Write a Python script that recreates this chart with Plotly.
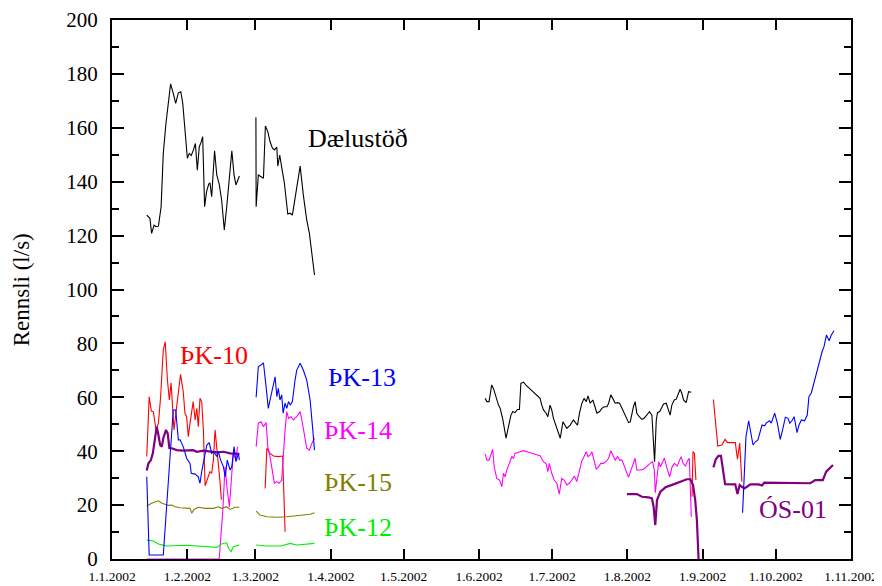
import pandas as pd
import plotly.graph_objects as go

BASE = pd.Timestamp("2002-01-01")

# ---------------- data (days after 1.1.2002, flow in l/s); None = gap ----------------
dael_days = [14.3, 15.6, 16.3, 17.3, 18.1, 19.1, 20.2, 21.1, 22.2, 23.2, 24.1, 25.2, 26.2, 27.3, 28.3,
             29.1, 30.0, 31.0, 31.8, 32.6, 33.5, 34.3, 35.1, 35.9, 36.6, 37.3, 38.1, 38.9, 39.8, 40.3,
             41.0, 42.2, 43.1, 44.1, 45.1, 46.2, 47.2, 48.1, 49.3, 50.2, 51.0, 52.4, None,
             59.2, 59.3, 60.2, 61.3, 62.3, 63.1, 64.1, 65.0, 66.0, 66.8, 67.8, 68.2, 69.0, 70.0, 70.9,
             72.3, 73.3, 74.2, 77.4, 78.7, 80.1, 81.2, 83.3, None,
             153.5, 154.2, 155.1, 156.2, 156.9, 157.9, 159.0, 159.7, 160.8, 162.1, 163.1, 164.1, 164.9,
             165.8, 166.8, 167.6, 168.2, 169.3, 170.6, 172.7, 174.8, 176.1, 176.8, 177.5, 178.6, 179.3,
             180.2, 180.9, 181.6, 182.3, 183.0, 183.7, 184.4, 185.5, 186.4, 187.1, 188.5, 189.8, 190.8,
             191.5, 192.3, 193.3, 194.2, 195.1, 195.8, 196.7, 197.8, 198.8, 199.5, 200.6, 201.5, 202.5,
             203.6, 204.3, 205.2, 206.0, 207.0, 208.0, 208.8, 209.8, 210.7, 211.5, 212.5, 213.2, 213.9,
             214.5, 215.2, 215.9, 216.9, 218.0, 218.9, 220.0, 221.1, 222.1, 223.2, 223.9, 224.4, 225.3,
             226.0, 226.9, 228.0, 229.0, 229.6, 230.3, 231.3, 232.1, 233.1, 233.7, 234.4, 235.1, 236.2,
             237.2, 238.3]
dael_vals = [127.6, 126.4, 120.8, 123.9, 123.3, 123.5, 130.7, 150.5, 161.7, 169.1, 176.3, 172.8, 169.1,
             173.0, 173.4, 169.1, 159.2, 148.7, 150.5, 149.7, 151.8, 154.2, 144.3, 153.0, 154.5, 156.7,
             130.7, 136.3, 139.1, 139.6, 134.4, 151.5, 142.5, 139.1, 133.2, 122.1, 130.7, 140.6, 151.5,
             142.5, 138.8, 142.1, None,
             163.9, 130.7, 142.5, 141.9, 141.3, 160.7, 158.6, 154.9, 152.4, 151.8, 152.8, 145.8, 149.9,
             144.3, 139.6, 128.0, 128.3, 127.6, 145.8, 135.1, 125.8, 120.8, 105.4, None,
             59.6, 58.4, 58.4, 64.6, 63.3, 60.2, 57.1, 55.9, 51.6, 44.8, 49.1, 53.4, 54.7,
             54.3, 55.5, 55.5, 65.2, 65.6, 64.2, 62.5, 60.9, 59.6, 57.1, 55.3, 54.1, 52.8,
             57.1, 55.3, 52.2, 50.4, 48.5, 47.2, 44.8, 50.9, 49.7, 48.5, 49.7, 51.6, 50.4,
             49.7, 54.1, 57.8, 59.6, 58.4, 60.5, 57.8, 59.0, 56.5, 54.1, 54.7, 55.9, 56.5,
             56.5, 57.8, 60.9, 59.6, 57.8, 58.0, 57.8, 55.9, 54.1, 52.2, 50.6, 50.9, 54.7,
             56.5, 58.4, 54.1, 52.8, 51.8, 52.2, 53.4, 54.7, 53.4, 36.1, 51.6, 54.3, 54.7,
             55.9, 57.5, 57.8, 55.3, 53.4, 57.1, 59.0, 59.3, 61.5, 63.0, 61.5, 59.0, 58.0,
             62.1, 61.9]

pk10_days = [14.3, 15.3, 16.2, 17.0, 18.1, 19.1, 20.0, 21.1, 21.9, 22.8, 23.6, 24.3, 25.0, 25.5, 26.6,
             27.7, 28.2, 29.3, 30.0, 30.7, 31.4, 32.1, 32.8, 33.4, 34.2, 34.9, 35.5, 36.2, 36.9, 37.6,
             38.3, 39.0, 39.6, 40.3, 41.0, 41.7, 42.4, 43.1, 43.7, 44.4, 45.0, None,
             63.0, 63.7, 65.0, 66.4, 68.4, 70.2, 70.6, 71.2, None,
             238.6, 239.0, 239.6, 240.2, None,
             247.4, 249.2, 250.9, 252.2, 253.2, 255.0, 256.4, 257.3, 258.2, 259.1]
pk10_vals = [38.0, 60.2, 54.9, 54.7, 47.9, 50.4, 60.2, 77.6, 80.6, 66.4, 59.0, 65.4, 55.3, 47.9, 56.5,
             65.2, 68.5, 62.1, 54.1, 52.8, 45.4, 50.4, 55.3, 58.4, 51.6, 55.9, 49.1, 59.6, 58.4, 47.9,
             27.2, 29.3, 30.5, 32.4, 31.8, 36.7, 47.9, 39.2, 35.5, 29.0, 22.0, None,
             26.2, 41.1, 39.2, 38.2, 38.0, 38.2, 27.0, 10.1, None,
             23.1, 39.8, 39.2, 29.3, None,
             59.2, 41.9, 42.3, 44.4, 43.2, 43.2, 43.2, 37.0, 43.0, 28.7]

pk13_days = [14.3, 15.3, 21.1, 25.2, 26.2, 27.3, 28.0, 29.3, 30.7, 32.1, 32.6, 34.2, 35.5, 36.2, 36.9,
             37.9, 39.0, 40.0, 41.0, 41.9, 43.1, 43.7, 44.7, 45.8, 46.6, 47.4, 48.6, 49.3, 50.2, 51.0,
             52.0, 52.4, None,
             59.3, 60.2, 61.3, 62.3, 63.3, 64.3, 65.3, 66.1, 67.1, 67.8, 68.4, 69.1, 69.8, 70.4, 71.2,
             71.9, 72.6, 73.3, 74.2, 75.3, 76.0, 77.4, 78.7, 80.1, 81.5, 82.6, 83.3, None,
             259.4, 260.0, 260.8, 261.9, 263.7, 264.7, 265.7, 267.4, 268.5, 269.1, 270.5, 271.2, 272.6,
             273.7, 274.9, 276.0, 277.0, 278.1, 278.8, 279.7, 280.6, 281.8, 282.6, 283.6, 284.9, 286.0,
             286.7, 287.7, 289.0, 290.0, 291.1, 292.1, 292.9, 293.9, 295.0, 295.9, 297.0]
pk13_vals = [30.5, 1.5, 1.5, 55.3, 55.3, 44.2, 44.2, 41.7, 37.4, 35.5, 31.8, 31.5, 30.5, 28.1, 32.4,
             36.7, 42.3, 43.2, 39.2, 39.8, 38.0, 39.8, 36.7, 34.3, 30.5, 36.7, 33.0, 34.3, 41.7, 36.1,
             39.2, 36.7, None,
             60.0, 71.4, 72.0, 72.8, 64.6, 55.9, 60.2, 63.9, 67.6, 60.2, 63.3, 59.0, 60.9, 54.1, 57.8,
             55.9, 58.4, 57.1, 58.4, 66.4, 70.1, 72.6, 70.1, 66.4, 59.0, 47.9, 40.4, None,
             17.2, 29.3, 45.4, 51.3, 42.3, 43.5, 44.2, 49.7, 49.4, 50.4, 51.3, 50.4, 54.1,
             50.4, 44.4, 48.5, 52.6, 52.2, 50.4, 51.3, 52.8, 46.9, 49.7, 51.6, 51.3, 53.4,
             60.2, 61.7, 66.4, 68.9, 73.8, 76.9, 78.8, 83.1, 81.0, 83.1, 84.7]

pk14_days = [14.3, 44.1, 45.6, 46.5, 47.4, 48.3, 49.3, 49.9, 51.0, 51.6, None,
             59.3, 60.2, 61.3, 62.3, 63.4, 64.1, 65.0, 66.0, 66.8, 67.8, 68.7, 69.8, 70.4, 71.2, 71.9,
             72.6, 73.7, 74.6, 76.0, 77.4, 78.1, 79.0, 80.1, 81.2, 82.2, 83.3, None,
             153.5, 154.2, 155.1, 156.2, 156.6, 157.3, 158.3, 159.4, 160.4, 161.0, 161.7, 162.4, 163.4,
             164.5, 165.2, 165.8, 167.2, 169.3, 172.1, 176.1, 177.5, 178.6, 179.3, 179.9, 180.9, 181.9,
             183.0, 184.0, 185.0, 186.0, 187.1, 188.1, 189.2, 190.2, 191.2, 192.2, 193.3, 194.2, 195.1,
             195.8, 196.7, 197.4, 198.4, 199.2, 200.1, 201.1, 202.2, 203.2, 204.3, 205.2, 206.3, 207.0,
             208.0, 208.8, 209.8, 210.8, 211.8, 212.5, 213.5, 214.3, 215.2, 215.9, 217.3, 218.7, 220.0,
             221.4, 222.4, 223.1, 223.5, 224.2, 224.9, 225.6, 226.3, 227.2, 228.3, 229.4, 230.4, 231.4,
             232.5, 233.4, 234.1, 234.9, 235.9, 236.8, 237.5, 238.3]
pk14_vals = [0.0, 0.0, 18.2, 34.2, 25.6, 19.4, 31.8, 39.2, 36.7, 41.7, None,
             41.7, 50.4, 50.9, 49.1, 50.6, 41.7, 38.0, 33.0, 28.1, 28.7, 28.1, 29.3, 39.2, 47.9, 54.7,
             52.2, 52.8, 51.6, 52.8, 54.7, 51.6, 47.2, 41.1, 40.4, 42.9, 44.8, None,
             39.0, 36.7, 36.7, 40.4, 40.7, 33.7, 29.9, 29.3, 26.8, 31.8, 30.5, 33.0, 35.3,
             38.0, 37.4, 39.2, 39.6, 40.2, 39.4, 38.3, 36.1, 35.3, 32.4, 35.5, 31.8, 29.3,
             28.1, 24.1, 29.9, 29.3, 27.5, 28.1, 29.3, 30.8, 28.7, 33.0, 36.5, 38.0, 39.8,
             38.0, 38.6, 39.8, 36.7, 33.3, 34.2, 35.5, 35.5, 36.1, 37.4, 40.2, 38.0, 36.7,
             38.0, 36.7, 36.7, 34.2, 31.8, 30.3, 33.0, 34.9, 37.4, 33.0, 33.0, 33.3, 34.5,
             35.5, 36.1, 33.0, 24.6, 31.8, 36.1, 34.2, 35.5, 37.4, 33.7, 30.5, 34.2, 35.5,
             34.5, 36.7, 38.0, 35.5, 34.5, 36.5, 37.4, 15.7]

pk15_days = [14.3, 16.3, 19.1, 20.5, 21.8, 23.2, 24.6, 26.0, 28.0, 30.0, 32.1, 32.8, 33.7, 35.5, 38.3,
             41.7, 43.7, 45.1, 47.2, 48.6, 50.6, 52.4, None,
             59.3, 60.9, 63.7, 67.8, 71.9, 76.0, 78.7, 81.5, 83.3]
pk15_vals = [19.7, 20.7, 21.6, 20.7, 20.3, 19.9, 20.0, 19.4, 19.0, 19.0, 18.8, 17.0, 18.4, 19.2, 18.8,
             18.8, 19.4, 18.8, 19.4, 18.4, 19.2, 19.2, None,
             17.8, 16.3, 15.7, 15.5, 15.7, 16.0, 16.3, 16.6, 17.2]

pk12_days = [14.3, 17.0, 19.1, 22.5, 30.7, 34.9, 39.0, 43.1, 45.1, 47.2, 47.9, 49.0, 49.9, 51.0, 52.4,
             None, 59.3, 63.7, 69.4, 73.3, 76.0, 80.1, 83.3]
pk12_vals = [7.0, 6.7, 5.6, 4.8, 5.1, 4.8, 4.6, 4.3, 5.6, 6.0, 4.0, 2.7, 4.6, 4.8, 5.2,
             None, 5.2, 4.8, 4.8, 5.8, 5.2, 5.6, 5.8]

os01_days = [14.3, 15.0, 16.0, 16.8, 17.8, 18.4, 19.1, 19.8, 20.5, 21.1, 22.2, 22.9, 23.6, 24.6, 26.6,
             29.3, 33.4, 34.9, 37.6, 40.3, 43.1, 45.8, 48.6, 52.4, None,
             211.8, 215.9, 218.0, 220.7, 222.1, 222.8, 223.5, 224.2, 225.6, 227.7, 230.4, 233.1, 234.9,
             236.5, 237.9, 239.0, 239.9, 240.6, 241.3, None,
             247.4, 248.4, 249.5, 250.5, 252.2, 254.3, 256.4, 257.3, 258.2, 259.1, 260.1, 261.2, 262.6,
             266.0, 267.4, 268.3, 273.5, 281.8, 287.2, 289.3, 292.4, 293.8, 295.5, 296.6]
os01_vals = [32.8, 35.5, 36.7, 39.2, 45.4, 49.1, 46.0, 42.3, 41.7, 44.8, 47.9, 46.6, 41.1, 41.1, 40.4,
             40.2, 40.4, 39.8, 40.2, 39.8, 39.6, 39.8, 39.2, 39.0, None,
             24.1, 24.1, 23.1, 22.9, 22.5, 19.4, 12.6, 21.9, 25.0, 26.6, 27.5, 28.3, 29.1,
             29.6, 29.6, 27.5, 21.9, 14.5, 0.0, None,
             34.0, 37.0, 38.3, 38.3, 27.8, 27.8, 27.7, 24.1, 27.5, 26.8, 26.2, 26.8, 27.7,
             27.7, 27.3, 28.3, 28.3, 28.1, 28.1, 29.3, 29.3, 32.4, 34.0, 34.9]

series_names = ["Dælustöð", "ÞK-10", "ÞK-13", "ÞK-14", "ÞK-15", "ÞK-12", "ÓS-01"]
tick_dates = ["2002-01-01", "2002-02-01", "2002-03-01", "2002-04-01", "2002-05-01", "2002-06-01",
              "2002-07-01", "2002-08-01", "2002-09-01", "2002-10-01", "2002-11-01"]
tick_labels = ["1.1.2002", "1.2.2002", "1.3.2002", "1.4.2002", "1.5.2002", "1.6.2002",
               "1.7.2002", "1.8.2002", "1.9.2002", "1.10.2002", "1.11.2002"]
y_ticks = [0, 20, 40, 60, 80, 100, 120, 140, 160, 180, 200]

# ---------------- figure ----------------
def to_dates(days):
    return [None if d is None else BASE + pd.Timedelta(days=d) for d in days]

FONT = "Liberation Serif, Times New Roman, serif"

specs = [
    (series_names[0], dael_days, dael_vals, "#000000", 1.1),
    (series_names[1], pk10_days, pk10_vals, "#ff0000", 1.1),
    (series_names[3], pk14_days, pk14_vals, "#ff00ff", 1.1),
    (series_names[4], pk15_days, pk15_vals, "#808000", 1.1),
    (series_names[5], pk12_days, pk12_vals, "#00ee00", 1.1),
    (series_names[6], os01_days, os01_vals, "#800080", 2.2),
    (series_names[2], pk13_days, pk13_vals, "#0000ff", 1.1),
]

fig = go.Figure()
for name, d, v, col, w in specs:
    fig.add_trace(go.Scatter(x=to_dates(d), y=v, mode="lines", name=name,
                             line=dict(color=col, width=w), connectgaps=False,
                             showlegend=False))

labels = [
    ("Dælustöð", "2002-04-12", 156, "#000000"),
    ("ÞK-10", "2002-02-12", 75.5, "#ff0000"),
    ("ÞK-13", "2002-04-14", 67.5, "#0000ff"),
    ("ÞK-14", "2002-04-12", 47.5, "#ff00ff"),
    ("ÞK-15", "2002-04-12", 28.5, "#808000"),
    ("ÞK-12", "2002-04-12", 11.8, "#00ee00"),
    ("ÓS-01", "2002-10-08", 18.2, "#800080"),
]
for txt, xd, yv, col in labels:
    fig.add_annotation(x=xd, y=yv, text=txt, showarrow=False,
                       font=dict(family=FONT, size=26, color=col))

# y-axis title
fig.add_annotation(xref="paper", yref="paper", x=-0.122, y=0.5, text="Rennsli (l/s)",
                   textangle=-90, showarrow=False, xanchor="center", yanchor="middle",
                   font=dict(family=FONT, size=23, color="black"))

# page body adds an 8 px offset, so the figure is 8 px smaller and left/top margins shifted
fig.update_layout(
    width=874, height=578,
    margin=dict(l=104, r=31, t=12, b=27, autoexpand=False),
    paper_bgcolor="white", plot_bgcolor="white",
    font=dict(family=FONT, color="black"),
)
fig.update_xaxes(
    type="date", range=[tick_dates[0], tick_dates[-1]], automargin=False,
    tickmode="array", tickvals=tick_dates, ticktext=tick_labels,
    tickfont=dict(size=13.5, family=FONT),
    ticks="inside", ticklen=10, tickwidth=2, tickcolor="black",
    showline=True, linewidth=2, linecolor="black", mirror="ticks",
    showgrid=False, zeroline=False, ticklabelstandoff=4,
)
fig.update_yaxes(
    range=[0, 200], tickmode="array", tickvals=y_ticks, automargin=False,
    tickfont=dict(size=21, family=FONT),
    ticks="inside", ticklen=12, tickwidth=2, tickcolor="black",
    minor=dict(dtick=10, ticks="inside", ticklen=7, tickwidth=2, tickcolor="black"),
    showline=True, linewidth=2, linecolor="black", mirror="ticks",
    showgrid=False, zeroline=False, ticklabelstandoff=8,
)

fig.write_html("out.html")
